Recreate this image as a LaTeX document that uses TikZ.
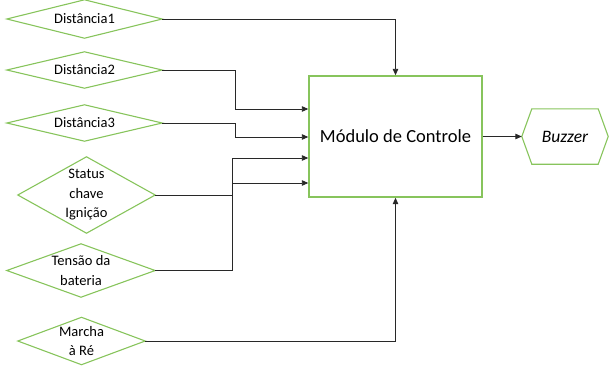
\documentclass[tikz,border=0pt]{standalone}
\usepackage{fontspec}
\setmainfont{Carlito}
\usetikzlibrary{arrows.meta}
\definecolor{leaf}{RGB}{135,196,92}
\definecolor{wire}{RGB}{40,40,40}
\begin{document}
\begin{tikzpicture}[x=1pt,y=-1pt,
  inbox/.style={rectangle,inner sep=0pt,align=center,
    font=\fontsize{14.5}{19.5}\selectfont},
  ctrl/.style={rectangle,draw=leaf,line width=1.4pt,inner sep=0pt,
    minimum width=173pt,minimum height=121pt,
    font=\fontsize{18.5}{22}\selectfont},
  wirearrow/.style={draw=wire,line width=0.9pt,
    -{Triangle[length=6.5pt,width=5.5pt]}},
  rim/.style={draw=leaf,line width=1.1pt,line join=miter}]
\useasboundingbox (0,0) rectangle (609,365);

% input blocks (drawn as diamonds around their labels)
\node[inbox,minimum width=155pt,minimum height=38pt] (d1) at (84.5,19) {Distância1};
\node[inbox,minimum width=155pt,minimum height=36pt] (d2) at (84.5,70) {Distância2};
\node[inbox,minimum width=155pt,minimum height=36pt] (d3) at (84.5,123) {Distância3};
\node[inbox,minimum width=137pt,minimum height=76pt] (st) at (86.5,195) {Status\\chave\\Ignição};
\node[inbox,minimum width=148pt,minimum height=53pt] (te) at (81,270.5) {Tensão da\\bateria};
\node[inbox,minimum width=127pt,minimum height=47pt] (ma) at (81.5,341) {Marcha\\à Ré};
\foreach \n in {d1,d2,d3,st,te,ma}
  \draw[rim] (\n.west) -- (\n.north) -- (\n.east) -- (\n.south) -- cycle;

% control module
\node[ctrl] (box) at (395.5,136.5) {Módulo de Controle};

% output block (hexagon)
\node[inbox,minimum width=86pt,minimum height=55pt,
  font=\fontsize{17.5}{21}\selectfont\itshape] (bz) at (565,136.5) {Buzzer};
\draw[rim] (bz.west) -- ([xshift=10pt]bz.north west) -- ([xshift=-10pt]bz.north east)
  -- (bz.east) -- ([xshift=-10pt]bz.south east) -- ([xshift=10pt]bz.south west) -- cycle;

% connections
\draw[wirearrow] (d1.east) -| (box.north);
\draw[wirearrow] (d2.east) -| (235,109) -- (box.west |- 0,109);
\draw[wirearrow] (d3.east) -| (235,137) -- (box.west |- 0,137);
\draw[wirearrow] (st.east) -| (232,158) -- (box.west |- 0,158);
\draw[wirearrow] (te.east) -| (232,183) -- (box.west |- 0,183);
\draw[wirearrow] (ma.east) -| (box.south);
\draw[wirearrow] (box.east) -- (bz.west);
\end{tikzpicture}
\end{document}
